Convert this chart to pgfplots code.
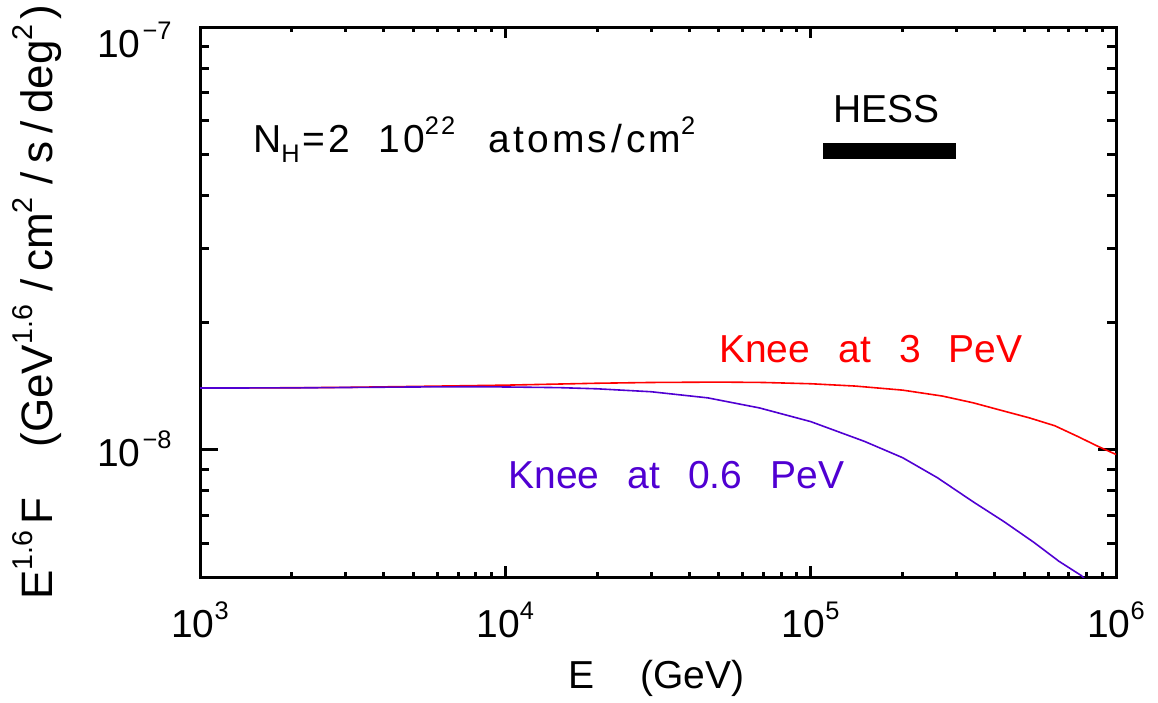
\documentclass[border=0pt]{standalone}
\usepackage{fontspec}
\setmainfont{Liberation Sans}[WordSpace=2.6]
\newfontfamily\widefont{Liberation Sans}[WordSpace=2.6, LetterSpace=8]
\usepackage{pgfplots}
\pgfplotsset{compat=1.18}

\definecolor{kneeblue}{RGB}{80,0,210}
\newcommand{\sups}[1]{\raisebox{9pt}{\fontsize{12.7}{13}\selectfont #1}}
\newcommand{\subs}[1]{\raisebox{-5pt}{\fontsize{12.7}{13}\selectfont #1}}
\newcommand{\lsups}[1]{\raisebox{10pt}{\fontsize{14.3}{15}\selectfont #1}}
\newcommand{\slsep}{\hspace{4pt}/\hspace{4pt}}

\begin{document}
\fontsize{19.5}{23}\selectfont
\begin{tikzpicture}
\begin{axis}[
  scale only axis,
  width=458pt, height=275pt,
  xmode=log, ymode=log,
  xmin=1e3, xmax=1e6,
  ymin=5e-9, ymax=1e-7,
  axis line style={line width=1.5pt},
  every tick/.style={black, line width=1.5pt},
  tick align=inside,
  xtick={1e3,1e4,1e5,1e6},
  xticklabels={10\sups{3},10\sups{4},10\sups{5},10\sups{6}},
  minor xtick={2e3,3e3,4e3,5e3,6e3,7e3,8e3,9e3,2e4,3e4,4e4,5e4,6e4,7e4,8e4,9e4,2e5,3e5,4e5,5e5,6e5,7e5,8e5,9e5},
  ytick={1e-8,1e-7},
  yticklabels={\raisebox{6.5pt}{10\hspace{1pt}\sups{−8}},10\hspace{1pt}\sups{−7}},
  minor ytick={5e-9,6e-9,7e-9,8e-9,9e-9,2e-8,3e-8,4e-8,5e-8,6e-8,7e-8,8e-8,9e-8},
  major tick length=9pt,
  minor tick length=4.5pt,
  xtick style={/pgfplots/major tick length=5.5pt, /pgfplots/minor tick length=2.75pt},
  xticklabel style={anchor=base, yshift=-30pt},
  yticklabel style={anchor=base east, xshift=-7.5pt, yshift=-15pt},
  xlabel={E\hspace{23pt}(GeV)},
  ylabel={\fontsize{22}{26}\selectfont E\lsups{1.6}\hspace{3pt}F\hspace{25pt}(GeV\lsups{1.6}\hspace{2.5pt}\slsep cm\lsups{2}\hspace{2.5pt}\slsep s\slsep deg\lsups{2}\hspace{2.5pt})},
  xlabel style={at={(axis description cs:0.498,-0.2018)}, anchor=base},
  ylabel style={at={(axis description cs:-0.1605,0.5)}, anchor=base},
  clip=true,
]
% Knee at 3 PeV
\addplot[red, line width=0.8pt] coordinates {
  (1e3,1.400e-8) (2e3,1.402e-8) (3e3,1.405e-8) (5e3,1.412e-8) (1e4,1.422e-8)
  (2e4,1.437e-8) (3e4,1.443e-8) (5e4,1.446e-8) (7e4,1.443e-8) (1e5,1.433e-8)
  (1.4e5,1.415e-8) (2e5,1.384e-8) (2.7e5,1.34e-8) (3.4e5,1.292e-8) (4.2e5,1.24e-8)
  (5.2e5,1.19e-8) (6.3e5,1.14e-8) (7.5e5,1.075e-8) (8.7e5,1.02e-8) (1e6,0.975e-8)
};
% Knee at 0.6 PeV
\addplot[kneeblue, line width=0.8pt] coordinates {
  (1e3,1.400e-8) (2e3,1.401e-8) (3e3,1.404e-8) (5e3,1.408e-8) (8e3,1.410e-8)
  (1e4,1.408e-8) (1.5e4,1.403e-8) (2e4,1.394e-8) (3e4,1.372e-8) (4.6e4,1.327e-8)
  (6.8e4,1.256e-8) (1e5,1.166e-8) (1.5e5,1.047e-8) (2e5,0.958e-8) (2.6e5,0.859e-8)
  (3.4e5,0.754e-8) (4.3e5,0.676e-8) (5.4e5,0.603e-8) (6.5e5,0.545e-8) (7.7e5,0.504e-8)
  (8.5e5,0.47e-8)
};
% HESS range
\addplot[black, line width=8pt, line cap=butt] coordinates {(1.1e5,5.1e-8) (3.0e5,5.1e-8)};

\node[anchor=base, black] at (axis cs:1.77e5,5.96e-8) {HESS};
\node[anchor=base west, black, inner sep=0pt] at (axis cs:1490,5.04e-8)
  {N\subs{H}\hspace{1.5pt}=\hspace{1.5pt}2 {\widefont 10\sups{22}\hspace{-1.5pt} atoms\hspace{2pt}/\hspace{2pt}cm\sups{2}}};
\node[anchor=base west, red, inner sep=0pt] at (axis cs:5.0e4,1.607e-8) {Knee at 3 PeV};
\node[anchor=base west, kneeblue, inner sep=0pt] at (axis cs:1.02e4,8.09e-9) {Knee at 0.6 PeV};
\end{axis}
\pgfresetboundingbox
\path[use as bounding box] ([shift={(-100pt,-62.5pt)}]current axis.south west)
  rectangle ([shift={(21pt,13.5pt)}]current axis.north east);
\end{tikzpicture}
\end{document}
